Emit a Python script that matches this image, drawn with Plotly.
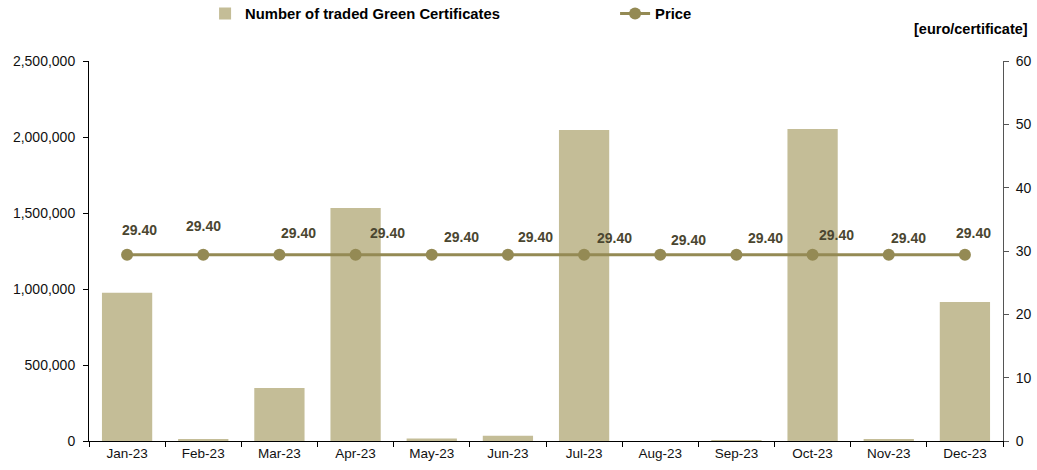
import plotly.graph_objects as go

months = ["Jan-23", "Feb-23", "Mar-23", "Apr-23", "May-23", "Jun-23",
          "Jul-23", "Aug-23", "Sep-23", "Oct-23", "Nov-23", "Dec-23"]
traded = [975000, 13000, 349000, 1533000, 16000, 34000,
          2046000, 0, 3000, 2052000, 9000, 914000]
price = [29.40] * 12

label_dx = [12, 0, 19, 32, 30, 28, 30, 28, 29, 24, 20, 9]
label_dy = [25, 29, 22, 22, 18, 18, 17, 15, 17, 20, 17, 22]

BAR = "#c4bd97"
LINE = "#948a54"
TXT = "#4a4630"
FONT = "Liberation Sans, Arial, sans-serif"

fig = go.Figure()
fig.add_trace(go.Bar(x=months, y=traded, name="Number of traded Green Certificates",
                     marker=dict(color=BAR, line=dict(width=0)), width=0.66))
fig.add_trace(go.Scatter(x=months, y=price, name="Price", yaxis="y2",
                         mode="lines+markers",
                         line=dict(color=LINE, width=3),
                         marker=dict(color=LINE, size=12)))

for m, p, dx, dy in zip(months, price, label_dx, label_dy):
    fig.add_annotation(x=m, y=p, yref="y2", text=f"<b>{p:.2f}</b>", showarrow=False,
                       xshift=dx, yshift=dy, font=dict(size=14, color=TXT, family=FONT))

fig.add_annotation(xref="paper", yref="paper", x=1.03, y=1.0, yshift=22,
                   xanchor="right", yanchor="bottom", showarrow=False,
                   text="<b>[euro/certificate]</b>", font=dict(size=14.5, color="black", family=FONT))

fig.update_layout(
    width=1037, height=470,
    margin=dict(l=89, r=34, t=61, b=29, autoexpand=False),
    plot_bgcolor="white", paper_bgcolor="white",
    font=dict(family=FONT, size=13, color="#111"),
    showlegend=True,
    legend=dict(orientation="h", x=0.127, y=1.124, yanchor="middle", yref="paper",
                xanchor="left", xref="paper",
                font=dict(size=14.8, family=FONT, color="black", weight="bold"),
                entrywidth=365, entrywidthmode="pixels", traceorder="normal",
                itemwidth=30, bgcolor="rgba(0,0,0,0)"),
    xaxis=dict(range=[-0.5, 11.5], showline=True, linecolor="black", linewidth=1,
               ticks="outside", tickson="boundaries", ticklen=5, tickcolor="black",
               showgrid=False, tickfont=dict(size=13.5)),
    yaxis=dict(range=[0, 2500000], tickvals=[0, 500000, 1000000, 1500000, 2000000, 2500000],
               tickformat=",d", showline=True, linecolor="black", linewidth=1,
               ticks="outside", ticklen=5, tickcolor="black", showgrid=False,
               zeroline=False, tickfont=dict(size=14), ticklabelstandoff=5),
    yaxis2=dict(range=[0, 60], tickvals=[0, 10, 20, 30, 40, 50, 60], overlaying="y",
                side="right", showline=True, linecolor="#555", linewidth=1,
                ticks="outside", ticklen=5, tickcolor="#555", showgrid=False,
                zeroline=False, tickfont=dict(size=14), ticklabelstandoff=4),
)

fig.write_html("out.html", config={"displayModeBar": False},
               post_script="document.body.style.margin='0';document.body.style.overflow='hidden';")
